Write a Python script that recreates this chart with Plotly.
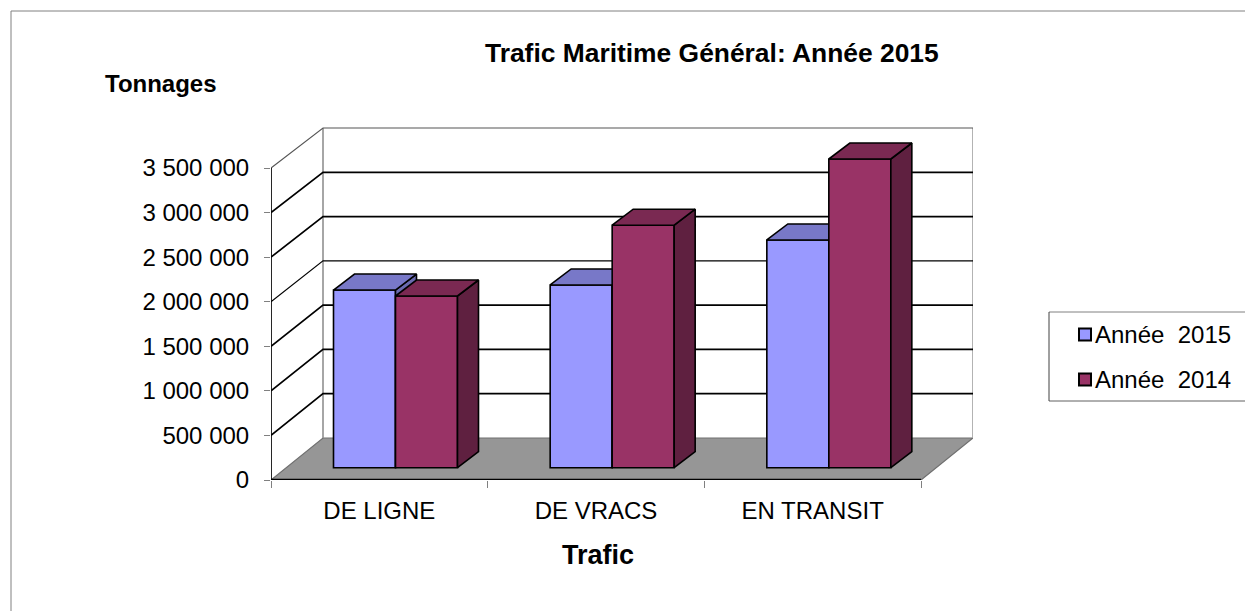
import plotly.graph_objects as go

categories = ["DE LIGNE", "DE VRACS", "EN TRANSIT"]
values_2015 = [1993000, 2050000, 2555000]
values_2014 = [1926000, 2720000, 3463000]
y_ticks = [0, 500000, 1000000, 1500000, 2000000, 2500000, 3000000, 3500000]
y_labels = ["0", "500 000", "1 000 000", "1 500 000", "2 000 000", "2 500 000", "3 000 000", "3 500 000"]
names = ["Année  2015", "Année  2014"]

W, H = 1245, 611
L, R, T, B = 271, 973, 127, 480
UX = 650 / 3            # px per category
UY = 312 / 3500000      # px per unit
X_MAX = (R - L) / UX
Y_MAX = (B - T) / UY
WALL_DX, WALL_DY = 52 / UX, 42 / UY
WALL_SCALE = 310 / 312
BAR_DX, BAR_DY = 21 / UX, 16 / UY
BAR_X0, BAR_W = 62.5 / UX, 62 / UX
BAR_BASE = 12.3 / UY
FONT = "Liberation Sans, Arial, sans-serif"
FRONT = ["#9999FF", "#993366"]
TOP = ["#7878C8", "#7A2952"]
SIDE = ["#6A6AB0", "#5F2040"]
FLOOR = "#969696"
EDGE = "#707070"


def px(x):
    return (x - L) / (R - L)


def py(y):
    return (B - y) / (B - T)


def back(v):
    return WALL_DY + v * WALL_SCALE


fig = go.Figure()


def poly(xs, ys, fill, line, width, axes):
    fig.add_trace(go.Scatter(x=xs, y=ys, mode="lines", fill="toself" if fill else None, fillcolor=fill,
                             line=dict(color=line, width=width), hoverinfo="skip", showlegend=False,
                             cliponaxis=False, xaxis=axes[0], yaxis=axes[1]))


base_axes = ("x", "y")
# floor
poly([0, WALL_DX, X_MAX, 3, 0], [0, WALL_DY, WALL_DY, 0, 0], FLOOR, EDGE, 1.2, base_axes)
# back wall frame
poly([WALL_DX, WALL_DX], [back(0), back(3500000)], None, "#909090", 1.6, base_axes)
poly([X_MAX, X_MAX], [back(0), back(3500000)], None, "#A0A0A0", 1.6, base_axes)
# gridlines
for v in y_ticks[1:]:
    top = v == y_ticks[-1]
    thin = v == 2000000
    poly([0, WALL_DX, X_MAX], [v, back(v), back(v)], None,
         "#555555" if top else "#000000", 1.1 if (top or thin) else 1.7, base_axes)
# front axis lines
poly([0, 0], [0, 3500000], None, "#000000", 1.7, base_axes)
poly([0, 3], [0, 0], None, "#000000", 2.6, base_axes)

layers = [("x2", "y2"), ("x3", "y3")]
for s, vals in enumerate([values_2015, values_2014]):
    ax = layers[s]
    xs = [i + BAR_X0 + BAR_W * (s + 0.5) for i in range(3)]
    fig.add_trace(go.Bar(x=xs, y=vals, base=BAR_BASE, width=BAR_W, name=names[s],
                         marker=dict(color=FRONT[s], line=dict(color="#000000", width=1.6)),
                         xaxis=ax[0], yaxis=ax[1], showlegend=False))
    for i, v in enumerate(vals):
        x0 = xs[i] - BAR_W / 2
        x1 = xs[i] + BAR_W / 2
        y1 = BAR_BASE + v
        poly([x1, x1 + BAR_DX, x1 + BAR_DX, x1, x1],
             [BAR_BASE, BAR_BASE + BAR_DY, y1 + BAR_DY, y1, BAR_BASE], SIDE[s], "#000000", 1.6, ax)
        poly([x0, x0 + BAR_DX, x1 + BAR_DX, x1, x0],
             [y1, y1 + BAR_DY, y1 + BAR_DY, y1, y1], TOP[s], "#000000", 1.6, ax)

shapes = [
    # chart frame
    dict(type="line", xref="paper", yref="paper", x0=px(11), x1=px(W), y0=py(11), y1=py(11),
         line=dict(color="#808080", width=1)),
    dict(type="line", xref="paper", yref="paper", x0=px(11), x1=px(11), y0=py(11), y1=py(H),
         line=dict(color="#808080", width=1)),
    # legend box
    dict(type="line", xref="paper", yref="paper", x0=px(1049), x1=px(W), y0=py(312), y1=py(312),
         line=dict(color="#808080", width=1)),
    dict(type="line", xref="paper", yref="paper", x0=px(1049), x1=px(W), y0=py(401), y1=py(401),
         line=dict(color="#606060", width=1)),
    dict(type="line", xref="paper", yref="paper", x0=px(1049), x1=px(1049), y0=py(312), y1=py(401),
         line=dict(color="#404040", width=1)),
]
annotations = [
    dict(text="<b>Trafic Maritime Général: Année 2015</b>", xref="paper", yref="paper", x=px(712), y=py(53),
         showarrow=False, xanchor="center", yanchor="middle", font=dict(family=FONT, size=26.4, color="#000")),
    dict(text="<b>Tonnages</b>", xref="paper", yref="paper", x=px(103), y=py(84),
         showarrow=False, xanchor="left", yanchor="middle", font=dict(family=FONT, size=24, color="#000")),
    dict(text="<b>Trafic</b>", xref="paper", yref="paper", x=px(598), y=py(555),
         showarrow=False, xanchor="center", yanchor="middle", font=dict(family=FONT, size=27, color="#000")),
]
for s, y in enumerate([334.5, 379.5]):
    shapes.append(dict(type="rect", xref="paper", yref="paper", x0=px(1079), x1=px(1091), y0=py(y - 6), y1=py(y + 6),
                       fillcolor=FRONT[s], line=dict(color="#000000", width=2)))
    annotations.append(dict(text=names[s].replace("  ", "\u00a0\u00a0"), xref="paper", yref="paper", x=px(1095), y=py(y),
                            showarrow=False, xanchor="left", yanchor="middle", xshift=-2,
                            font=dict(family=FONT, size=24, color="#000")))

hidden = dict(range=[0, X_MAX], visible=False, fixedrange=True)
hiddeny = dict(range=[0, Y_MAX], visible=False, fixedrange=True)
fig.update_layout(
    width=W, height=H, autosize=False,
    margin=dict(l=L, r=W - R, t=T, b=H - B, pad=0),
    paper_bgcolor="white", plot_bgcolor="rgba(0,0,0,0)",
    showlegend=False, barmode="overlay",
    font=dict(family=FONT, size=23, color="#000000"),
    shapes=shapes, annotations=annotations,
    xaxis=dict(range=[0, X_MAX], tickmode="array", tickvals=[0.5, 1.5, 2.5], ticktext=categories,
               ticks="outside", ticklen=0, showgrid=False, zeroline=False, showline=False, fixedrange=True,
               tickfont=dict(family=FONT, size=24), ticklabelstandoff=9,
               minor=dict(tickmode="array", tickvals=[0, 1, 2, 3], ticks="outside", ticklen=7,
                          tickcolor="#808080", tickwidth=1, showgrid=False)),
    yaxis=dict(range=[0, Y_MAX], tickmode="array", tickvals=y_ticks, ticktext=y_labels,
               ticks="outside", ticklen=6, tickcolor="#808080", tickwidth=1, showgrid=False, zeroline=False,
               showline=False, fixedrange=True, tickfont=dict(family=FONT, size=24), ticklabelstandoff=10),
    xaxis2=dict(overlaying="x", **hidden), yaxis2=dict(overlaying="y", **hiddeny),
    xaxis3=dict(overlaying="x", **hidden), yaxis3=dict(overlaying="y", **hiddeny),
)

fig.write_html("out.html", config=dict(displayModeBar=False), post_script="document.body.style.margin='0';")
